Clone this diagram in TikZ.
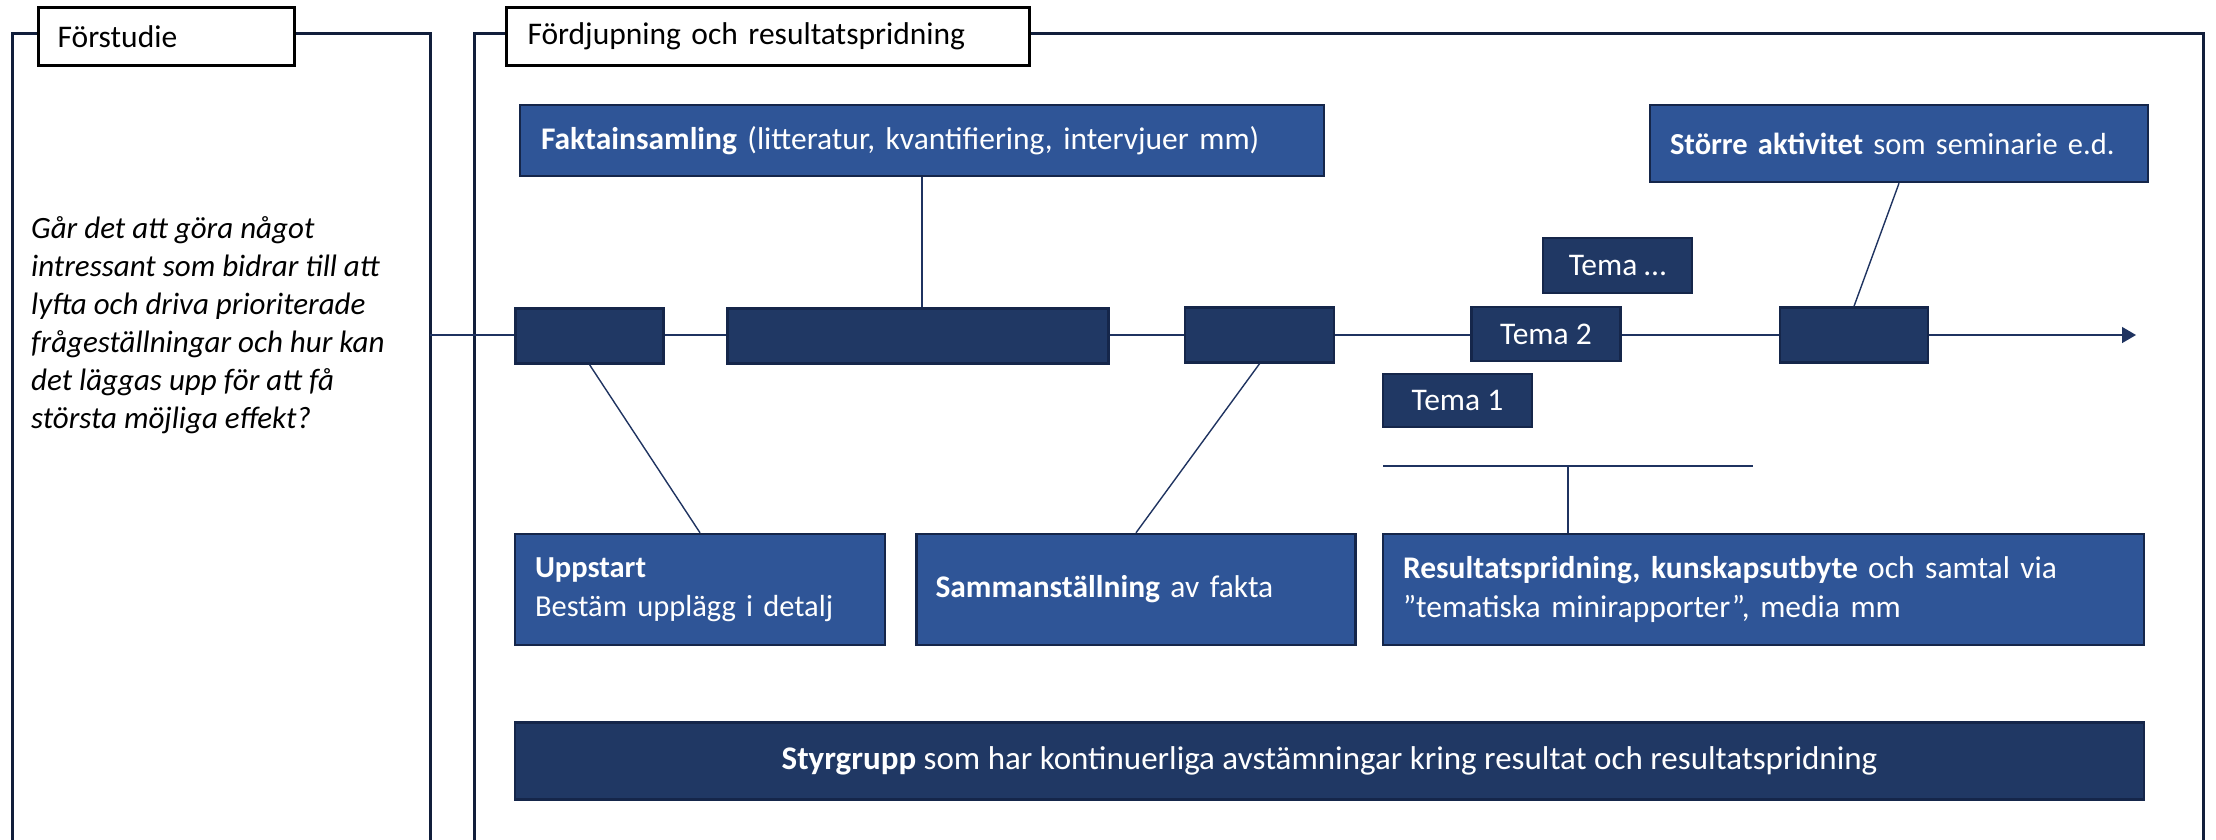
\documentclass[tikz,border=0pt]{standalone}
\usepackage{fontspec}
\setmainfont{Carlito}
\usetikzlibrary{arrows.meta}
\definecolor{mblue}{HTML}{2F5597}
\definecolor{dblue}{HTML}{203864}
\definecolor{edgeblue}{HTML}{15264A}
\definecolor{lineblue}{HTML}{1F3360}
\tikzset{
  txtbox/.style={draw=edgeblue, line width=2.5pt, fill=mblue, text=white, align=left, inner ysep=0pt},
  tlbox/.style={draw=edgeblue, line width=2.5pt, fill=dblue, text=white, inner sep=0pt},
  lblbox/.style={draw=black, line width=2.5pt, fill=white, align=left, inner ysep=0pt, minimum height=58pt},
  conn/.style={draw=lineblue, line width=1.4pt},
  frame/.style={draw=edgeblue!80!black, line width=3pt}
}
\begin{document}
\begin{tikzpicture}[x=1pt, y=-1pt, font=\fontsize{31.5}{39}\selectfont]
\useasboundingbox (0,0) rectangle (2216,839);
% frames
\draw[frame] (12,845) -- (12,33) -- (430,33) -- (430,845);
\draw[frame] (474,845) -- (474,33) -- (2203,33) -- (2203,845);
\node[lblbox, inner xsep=19pt, text width=218pt] (forlbl) at (166.6,36.7) {Förstudie};
\node[lblbox, inner xsep=21pt, text width=481pt] (fordlbl) at (768,36.7) {Fördjupning och resultatspridning};
\node[align=left, anchor=west, inner sep=0pt, font=\fontsize{31}{38}\selectfont\itshape] (fraga) at (31,325) {Går det att göra något\\intressant som bidrar till att\\lyfta och driva prioriterade\\frågeställningar och hur kan\\det läggas upp för att få\\största möjliga effekt?};
% timeline
\coordinate (tstart) at (430,335);
\coordinate (tend) at (2136,335);
\draw[conn, -{Triangle[length=14pt,width=16pt]}] (tstart) -- (tend);
\node[tlbox, minimum width=148pt, minimum height=55pt] (tl1) at (589.6,336) {};
\node[tlbox, minimum width=381pt, minimum height=55pt] (tl2) at (918,336) {};
\node[tlbox, minimum width=149pt, minimum height=55pt] (tl3) at (1259.5,335) {};
\node[tlbox, minimum width=148pt, minimum height=55pt] (tl4) at (1854,335) {};
\node[tlbox, minimum width=149pt, minimum height=55pt] (tema3) at (1617.5,265.5) {Tema …};
\node[tlbox, minimum width=149pt, minimum height=54pt] (tema2) at (1546,334) {Tema 2};
\node[tlbox, minimum width=149pt, minimum height=53pt] (tema1) at (1457.5,400.5) {Tema 1};
% upper boxes
\node[txtbox, inner xsep=21pt, text width=762pt, minimum height=71pt] (fakta) at (922,140.5) {\textbf{Faktainsamling} (litteratur, kvantifiering, intervjuer mm)};
\node[txtbox, inner xsep=20pt, text width=458pt, minimum height=77pt, font=\fontsize{30.5}{39}\selectfont] (stor) at (1899,143.5) {\textbf{Större aktivitet} som seminarie e.d.};
% lower boxes
\node[txtbox, inner xsep=20pt, text width=330pt, minimum height=111pt, font=\fontsize{30.5}{39}\selectfont] (uppstart) at (700,589.5) {\textbf{Uppstart}\\Bestäm upplägg i detalj};
\node[txtbox, inner xsep=19pt, text width=401pt, minimum height=111pt] (samm) at (1136,589.5) {\textbf{Sammanställning} av fakta};
\node[txtbox, inner xsep=20pt, text width=721pt, minimum height=111pt] (result) at (1763.5,589.5) {\textbf{Resultatspridning, kunskapsutbyte} och samtal via\\”tematiska minirapporter”, media mm};
\node[tlbox, minimum width=1629pt, minimum height=77pt, font=\fontsize{33}{40}\selectfont] (styr) at (1329.5,761) {\textbf{Styrgrupp} som har kontinuerliga avstämningar kring resultat och resultatspridning};
% connectors
\draw[conn] (fakta.south) -- (fakta.south |- tl2.north);
\draw[conn] (tl1.south) -- (uppstart.north);
\draw[conn] (tl3.south) -- (samm.north);
\draw[conn] (stor.south) -- (tl4.north);
\coordinate (barL) at (1383,466);
\coordinate (barR) at (1753,466);
\coordinate (barM) at (1568,466);
\draw[conn, line width=2pt] (barL) -- (barR);
\draw[conn] (barM) -- (barM |- result.north);
\end{tikzpicture}
\end{document}
